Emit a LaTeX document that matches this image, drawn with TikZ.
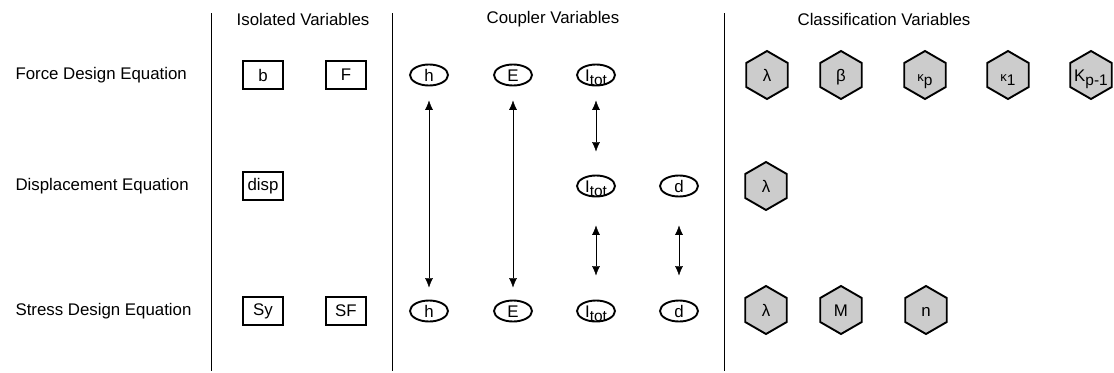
\documentclass[tikz,border=0pt]{standalone}
\usepackage{fontspec}
\setmainfont{Liberation Sans}
\usetikzlibrary{arrows.meta}
\usetikzlibrary{shapes.geometric}

\newcommand{\lowsub}[1]{\raisebox{-0.5ex}{\fontsize{15.5}{15.5}\selectfont #1}}
\newcommand{\nowidth}[1]{\makebox[0pt]{#1}}
\newcommand{\smallkappa}{{\fontsize{13}{13}\selectfont κ}}

\begin{document}
\begin{tikzpicture}[x=1bp,y=-1bp,>={Latex[length=9.5bp,width=8bp]},
  every node/.style={font=\fontsize{16.9}{20}\selectfont},
  rowlabel/.style={anchor=west},
  isovar/.style={draw,line width=1.9bp,minimum width=40bp,minimum height=28bp,inner sep=0pt},
  cplvar/.style={ellipse,draw,line width=1.9bp,minimum width=38bp,minimum height=21bp,inner sep=0pt,text height=12bp,text depth=0bp},
  clsvar/.style={regular polygon,regular polygon sides=6,shape border rotate=30,draw,line width=1.9bp,fill=gray!40,minimum size=48bp,inner sep=0pt,text height=12bp,text depth=0bp},
  colsep/.style={line width=0.8bp},
]
%%
\useasboundingbox (0,0) rectangle (1114,372);
\draw[colsep] (211,13) -- (211,371);
\draw[colsep] (392,13) -- (392,371);
\draw[colsep] (724,13) -- (724,371);
%
\node (hdr_iso) at (303,19) {Isolated Variables};
  \node (hdr_cpl) at (553,19) {Coupler Variables};
  \node (hdr_cls) at (884,19) {Classification Variables};
  \node[rowlabel] (row_force) at (12,75) {Force Design Equation};
  \node[rowlabel] (row_disp) at (12,186) {Displacement Equation};
  \node[rowlabel] (row_stress) at (12,311) {Stress Design Equation};
%
  \node[isovar] (iso_b) at (263,75) {b};
  \node[isovar] (iso_F) at (346,75) {F};
  \node[isovar] (iso_disp) at (263,186) {disp};
  \node[isovar] (iso_Sy) at (263,311) {Sy};
  \node[isovar] (iso_SF) at (346,311) {SF};
%
  \node[cplvar] (cpl_h1) at (429,75) {h};
  \node[cplvar] (cpl_E1) at (513,75) {E};
  \node[cplvar] (cpl_I1) at (596,75) {\nowidth{I\lowsub{tot}}};
  \node[cplvar] (cpl_I2) at (596,186) {\nowidth{I\lowsub{tot}}};
  \node[cplvar] (cpl_d2) at (679,186) {d};
  \node[cplvar] (cpl_h3) at (429,311) {h};
  \node[cplvar] (cpl_E3) at (513,311) {E};
  \node[cplvar] (cpl_I3) at (596,311) {\nowidth{I\lowsub{tot}}};
  \node[cplvar] (cpl_d3) at (679,311) {d};
%
  \node[clsvar] (cls_lam1) at (767,75) {λ};
  \node[clsvar] (cls_beta1) at (841,75) {β};
  \node[clsvar] (cls_kp1) at (925,75) {\nowidth{\smallkappa\lowsub{p}}};
  \node[clsvar] (cls_k11) at (1008,75) {\nowidth{\smallkappa\lowsub{1}}};
  \node[clsvar] (cls_Kp1) at (1091,75) {\nowidth{K\lowsub{p-1}}};
  \node[clsvar] (cls_lam2) at (766,186) {λ};
  \node[clsvar] (cls_lam3) at (766,310) {λ};
  \node[clsvar] (cls_M3) at (841,310) {M};
  \node[clsvar] (cls_n3) at (926,310) {n};
%
  \draw [black,<->,shorten <=14bp,shorten >=12bp] (cpl_h1) -- (cpl_h3);
  \draw [black,<->,shorten <=14bp,shorten >=12bp] (cpl_E1) -- (cpl_E3);
  \draw [black,<->,shorten <=14bp,shorten >=23bp] (cpl_I1) -- (cpl_I2);
  \draw [black,<->,shorten <=28bp,shorten >=24bp] (cpl_I2) -- (cpl_I3);
  \draw [black,<->,shorten <=28bp,shorten >=24bp] (cpl_d2) -- (cpl_d3);
%
\end{tikzpicture}
\end{document}
